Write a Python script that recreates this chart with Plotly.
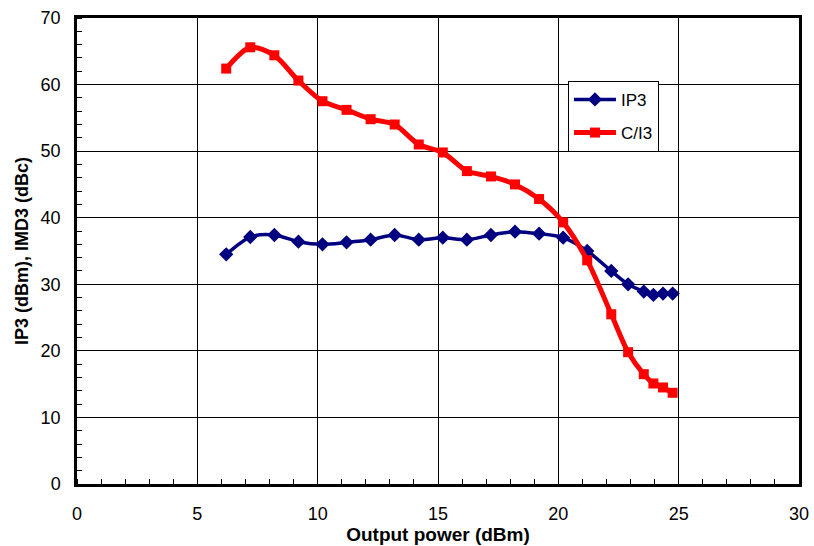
import plotly.graph_objects as go

x_power = [6.2, 7.2, 8.2, 9.2, 10.2, 11.2, 12.2, 13.2, 14.2, 15.2, 16.2, 17.2,
           18.2, 19.2, 20.2, 21.2, 22.2, 22.9, 23.55, 23.95, 24.35, 24.75]
ip3 = [34.5, 37.1, 37.4, 36.4, 36.0, 36.3, 36.7, 37.4, 36.7, 37.0, 36.7, 37.4,
       37.9, 37.6, 37.0, 35.0, 32.0, 30.0, 28.9, 28.4, 28.6, 28.6]
ci3 = [62.4, 65.6, 64.4, 60.6, 57.5, 56.2, 54.8, 54.0, 51.0, 49.8, 47.0, 46.2,
       45.0, 42.8, 39.3, 33.6, 25.5, 19.8, 16.5, 15.1, 14.5, 13.7]

x_ticks = [0, 5, 10, 15, 20, 25, 30]
y_ticks = [0, 10, 20, 30, 40, 50, 60, 70]

FONT = "Liberation Sans, Arial"

fig = go.Figure()
fig.add_trace(go.Scatter(
    x=x_power, y=ip3, name="IP3", mode="lines+markers", legendgroup="a",
    line=dict(color="#000080", width=3.5, shape="spline", smoothing=0.8),
    marker=dict(symbol="diamond", size=11, color="#000080")))
fig.add_trace(go.Scatter(
    x=x_power, y=ci3, name="C/I3", mode="lines+markers", legendgroup="b",
    line=dict(color="#FF0000", width=5, shape="spline", smoothing=0.8),
    marker=dict(symbol="square", size=10, color="#FF0000")))

axis_common = dict(
    showline=True, linecolor="black", linewidth=2.5, mirror=True,
    showgrid=True, gridcolor="black", gridwidth=1, zeroline=False,
    ticks="outside", tickcolor="rgba(0,0,0,0)", automargin=False,
    tickfont=dict(family=FONT, size=18, color="black"),
)
fig.update_xaxes(range=[0, 30], tickvals=x_ticks, ticklen=12, **axis_common,
                 minor=dict(dtick=1, ticks="inside", ticklen=5, tickcolor="black", showgrid=False),
                 title=dict(text="<b>Output power (dBm)</b>", standoff=4,
                            font=dict(family=FONT, size=19, color="black")))
fig.update_yaxes(range=[0, 70], tickvals=y_ticks, ticklen=10, **axis_common,
                 minor=dict(dtick=2, ticks="inside", ticklen=5, tickcolor="black", showgrid=False),
                 title=dict(text="<b>IP3 (dBm), IMD3 (dBc)</b>", standoff=8,
                            font=dict(family=FONT, size=18, color="black")))

fig.update_layout(
    width=814, height=546,
    margin=dict(l=77, r=15, t=18, b=62),
    plot_bgcolor="white", paper_bgcolor="white",
    font=dict(family=FONT, color="black"),
    legend=dict(x=0.680, y=0.865, xanchor="left", yanchor="top",
                bgcolor="white", bordercolor="black", borderwidth=1,
                font=dict(family=FONT, size=17, color="black"),
                traceorder="grouped", tracegroupgap=8, itemwidth=42),
)

fig.write_html("out.html")
